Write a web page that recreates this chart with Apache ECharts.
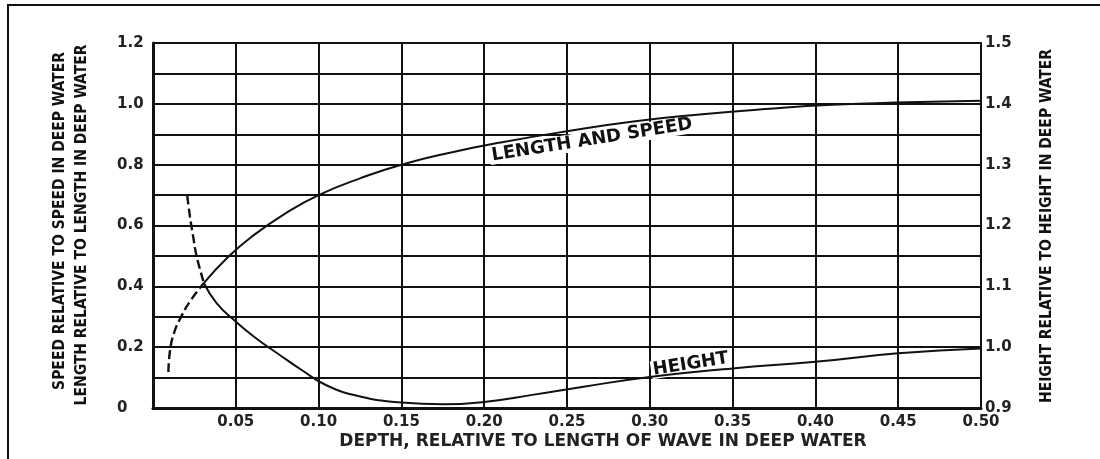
<!DOCTYPE html>
<html>
<head>
<meta charset="utf-8">
<script src="https://cdn.jsdelivr.net/npm/echarts@6/dist/echarts.min.js"></script>
<style>
  html, body { margin: 0; padding: 0; background: #fff; }
  #chart { width: 1100px; height: 459px; }
</style>
</head>
<body>
<div id="chart"></div>
<script>
// Wave length/speed ratio against relative depth (left axis)
const lengthDepth = [0.0093, 0.0103, 0.0127, 0.0166, 0.0229, 0.0308, 0.045, 0.06, 0.08, 0.10, 0.125, 0.15, 0.18, 0.21, 0.25, 0.29, 0.33, 0.37, 0.41, 0.455, 0.50];
const lengthRatio = [0.118, 0.19, 0.247, 0.296, 0.355, 0.411, 0.495, 0.565, 0.64, 0.70, 0.755, 0.80, 0.84, 0.873, 0.91, 0.942, 0.965, 0.983, 0.997, 1.005, 1.01];

// Wave height ratio against relative depth (right axis)
const heightDepth = [0.0207, 0.0223, 0.0243, 0.0264, 0.0308, 0.0385, 0.05, 0.062, 0.075, 0.09, 0.105, 0.125, 0.15, 0.175, 0.20, 0.23, 0.26, 0.30, 0.35, 0.40, 0.45, 0.50];
const heightRatio = [1.249, 1.215, 1.181, 1.149, 1.105, 1.072, 1.042, 1.015, 0.99, 0.962, 0.937, 0.919, 0.909, 0.906, 0.910, 0.922, 0.935, 0.951, 0.965, 0.976, 0.99, 0.998];

// Shallow end of both curves is drawn dashed, up to where they cross
const dashedUntil = 0.0308;

// Tick labels
const xTickLabels = ['', '0.05', '0.10', '0.15', '0.20', '0.25', '0.30', '0.35', '0.40', '0.45', '0.50'];
const leftTickLabels = ['0', '0.2', '0.4', '0.6', '0.8', '1.0', '1.2'];
const rightTickLabels = ['0.9', '1.0', '1.1', '1.2', '1.3', '1.4', '1.5'];

// Curve captions
const lengthCaption = { text: 'LENGTH AND SPEED', depth: 0.2651, value: 0.881 };
const heightCaption = { text: 'HEIGHT', depth: 0.3247, value: 0.972 };

const xTitle = 'DEPTH, RELATIVE TO LENGTH OF WAVE IN DEEP WATER';
const leftTitles = ['SPEED RELATIVE TO SPEED IN DEEP WATER', 'LENGTH RELATIVE TO LENGTH IN DEEP WATER'];
const rightTitle = 'HEIGHT RELATIVE TO HEIGHT IN DEEP WATER';

function pairs(xs, ys, keep) {
  const out = [];
  for (let i = 0; i < xs.length; i++) if (keep(xs[i])) out.push([xs[i], ys[i]]);
  return out;
}

const INK = '#111';
const LABEL_FONT = "'DejaVu Sans', sans-serif";
const TITLE_FONT = "'Liberation Sans Narrow', 'DejaVu Sans Condensed', sans-serif";

function caption(c) {
  return {
    symbol: 'rect',
    symbolSize: 1,
    itemStyle: { color: 'rgba(0,0,0,0)' },
    label: {
      show: true,
      position: 'inside',
      rotate: 9,
      formatter: c.text,
      color: INK,
      fontFamily: LABEL_FONT,
      fontWeight: 'bold',
      fontSize: 18,
      backgroundColor: '#fff',
      padding: [0, 2]
    },
    data: [{ coord: [c.depth, c.value] }]
  };
}

const lineBase = {
  type: 'line',
  showSymbol: false,
  smooth: 0.5,
  silent: true,
  z: 5
};

const chart = echarts.init(document.getElementById('chart'), null, { renderer: 'canvas' });
chart.setOption({
  animation: false,
  backgroundColor: '#fff',
  grid: { left: 153, right: 119, top: 43, bottom: 51 },
  xAxis: {
    type: 'value',
    min: 0,
    max: 0.5,
    interval: 0.05,
    axisLine: { show: true, lineStyle: { color: INK, width: 3 } },
    axisTick: { show: false },
    splitLine: { show: true, lineStyle: { color: INK, width: 2 } },
    axisLabel: {
      margin: 7,
      color: '#222',
      fontFamily: LABEL_FONT,
      fontWeight: 'bold',
      fontSize: 15,
      formatter: v => xTickLabels[Math.round(v * 20)] || ''
    }
  },
  yAxis: [
    {
      type: 'value',
      min: 0,
      max: 1.2,
      interval: 0.1,
      position: 'left',
      axisLine: { show: true, lineStyle: { color: INK, width: 3 } },
      axisTick: { show: false },
      splitLine: { show: true, lineStyle: { color: INK, width: 2 } },
      axisLabel: {
        align: 'left',
        margin: 36,
        color: '#222',
        fontFamily: LABEL_FONT,
        fontWeight: 'bold',
        fontSize: 15,
        formatter: v => {
          const k = Math.round(v * 10);
          return k % 2 === 0 ? leftTickLabels[k / 2] : '';
        }
      }
    },
    {
      type: 'value',
      min: 0.9,
      max: 1.5,
      interval: 0.1,
      position: 'right',
      axisLine: { show: true, lineStyle: { color: INK, width: 2 } },
      axisTick: { show: false },
      splitLine: { show: false },
      axisLabel: {
        margin: 4,
        color: '#222',
        fontFamily: LABEL_FONT,
        fontWeight: 'bold',
        fontSize: 15,
        formatter: v => rightTickLabels[Math.round((v - 0.9) * 10)] || ''
      }
    }
  ],
  series: [
    Object.assign({}, lineBase, {
      name: 'Length and speed (shallow)',
      yAxisIndex: 0,
      data: pairs(lengthDepth, lengthRatio, x => x <= dashedUntil),
      lineStyle: { color: INK, width: 2.4, type: [9, 4] }
    }),
    Object.assign({}, lineBase, {
      name: 'Length and speed',
      yAxisIndex: 0,
      data: pairs(lengthDepth, lengthRatio, x => x >= dashedUntil),
      lineStyle: { color: INK, width: 2 },
      markPoint: caption(lengthCaption)
    }),
    Object.assign({}, lineBase, {
      name: 'Height (shallow)',
      yAxisIndex: 1,
      data: pairs(heightDepth, heightRatio, x => x <= dashedUntil),
      lineStyle: { color: INK, width: 2.4, type: [9, 4] }
    }),
    Object.assign({}, lineBase, {
      name: 'Height',
      yAxisIndex: 1,
      data: pairs(heightDepth, heightRatio, x => x >= dashedUntil),
      lineStyle: { color: INK, width: 2 },
      markPoint: caption(heightCaption)
    })
  ],
  graphic: [
    // outer frame
    {
      type: 'rect',
      shape: { x: 8, y: 5, width: 1200, height: 600 },
      style: { fill: 'none', stroke: INK, lineWidth: 2 },
      silent: true
    },
    {
      type: 'text',
      x: 603, y: 442,
      style: { text: xTitle, align: 'center', verticalAlign: 'middle', fill: '#222', font: "bold 17px 'DejaVu Sans', sans-serif" },
      silent: true
    },
    {
      type: 'text',
      x: 60, y: 221, rotation: Math.PI / 2,
      style: { text: leftTitles[0], align: 'center', verticalAlign: 'middle', fill: '#111', font: "bold 15.5px " + TITLE_FONT },
      silent: true
    },
    {
      type: 'text',
      x: 82, y: 225, rotation: Math.PI / 2,
      style: { text: leftTitles[1], align: 'center', verticalAlign: 'middle', fill: '#111', font: "bold 15.5px " + TITLE_FONT },
      silent: true
    },
    {
      type: 'text',
      x: 1047, y: 226, rotation: Math.PI / 2,
      style: { text: rightTitle, align: 'center', verticalAlign: 'middle', fill: '#111', font: "bold 15.5px " + TITLE_FONT },
      silent: true
    }
  ]
});
</script>
</body>
</html>
